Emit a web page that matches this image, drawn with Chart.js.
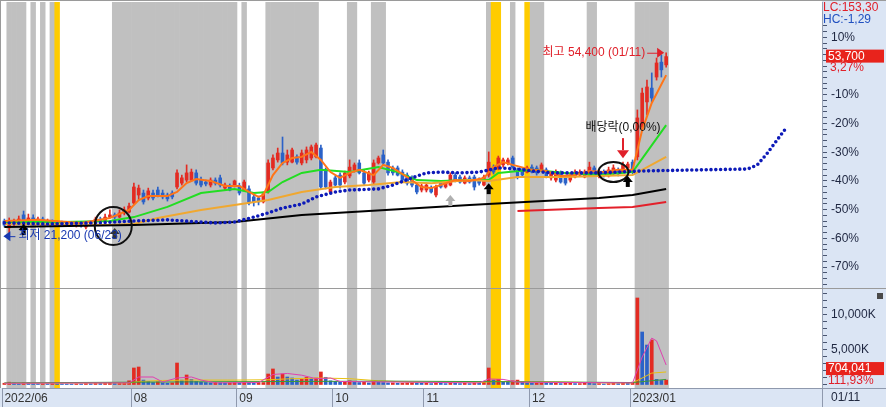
<!DOCTYPE html>
<html>
<head>
<meta charset="utf-8">
<script src="https://cdn.jsdelivr.net/npm/chart.js@4.4.0/dist/chart.umd.min.js"></script>
<style>
  html, body { margin: 0; padding: 0; background: #fff; }
  #wrap { width: 886px; height: 407px; }
</style>
</head>
<body>
<div id="wrap"><canvas id="chart" width="886" height="407"></canvas></div>
<script>
/* globals Chart: false */

// 139 trading days (2022/06/23 .. 2023/01/11) + 32 empty slots for the forward line
var slotCount = 171;
var monthStarts = [0, 27, 49, 69, 88, 110, 131];
var monthNames = ['2022/06', '08', '09', '10', '11', '12', '2023/01'];
var basePrice = 52000;

// [open, high, low, close]
var candles = [
    [23950, 24300, 22850, 23200], [22700, 24500, 21200, 23750], [23400, 24300, 23050, 23950], [23600, 24850, 23400, 24300],
    [25050, 25750, 23600, 23750], [23750, 25200, 23600, 24500], [24500, 25050, 23600, 23750], [23600, 24650, 23400, 24300],
    [24300, 24650, 23400, 23600], [23600, 24300, 23200, 23950], [23950, 24150, 23200, 23400], [23400, 23950, 23050, 23750],
    [23750, 23950, 23200, 23400], [23400, 23750, 23050, 23600], [23600, 23750, 23050, 23200], [23200, 23750, 22850, 23600],
    [23600, 23750, 22850, 23050], [22850, 23600, 22500, 23400], [23400, 23950, 23200, 23750], [23750, 24650, 23600, 24300],
    [24300, 24650, 23750, 23950], [23950, 25200, 23750, 24650], [24650, 25950, 24500, 25050], [25050, 25400, 24300, 24650],
    [24650, 25950, 24500, 25400], [25400, 26500, 25050, 25950], [25550, 27200, 25400, 26650], [27200, 30800, 27000, 30100],
    [28650, 30450, 27750, 29900], [29000, 29550, 27000, 27400], [28100, 29900, 27750, 29400], [29000, 29550, 27750, 28100],
    [29550, 30100, 28300, 28650], [29000, 29550, 27950, 28300], [28650, 29000, 27550, 27950], [29000, 29400, 27950, 28300],
    [30100, 33200, 29750, 32650], [30800, 32250, 30450, 31750], [31350, 34100, 31000, 32650], [31350, 33350, 31200, 32800],
    [32650, 33200, 30450, 30800], [31350, 31900, 30100, 30450], [31000, 31350, 30300, 30650], [30450, 31750, 30100, 31350],
    [31350, 31750, 30450, 30800], [31750, 32250, 30100, 30450], [29900, 30800, 29550, 30450], [30300, 30650, 29400, 29550],
    [30450, 31350, 30100, 31200], [30300, 30800, 28650, 29000], [29550, 31350, 29400, 31000], [29750, 30300, 26850, 27200],
    [28300, 28650, 26650, 27400], [28100, 28450, 26850, 27400], [27400, 29200, 27200, 28850], [29200, 35000, 29000, 34450],
    [33550, 35900, 33200, 35350], [35000, 37150, 34600, 36250], [36250, 39150, 34100, 34450], [34600, 36800, 34100, 35900],
    [34600, 37150, 34450, 36800], [35550, 35900, 34250, 34600], [34450, 36800, 34100, 36250], [35000, 37350, 34450, 36800],
    [35350, 37700, 35000, 37350], [35550, 38050, 35350, 37700], [37150, 37700, 29750, 30100], [33200, 33550, 29750, 30100],
    [29200, 31350, 29000, 31000], [31750, 32100, 30100, 30450], [32250, 32650, 29900, 30450], [31000, 33000, 30650, 32650],
    [32100, 35000, 31750, 33700], [33200, 34450, 32800, 34100], [34450, 35000, 32450, 32650], [32650, 33200, 30450, 30800],
    [31350, 33000, 31000, 32650], [31000, 35000, 30650, 34450], [34450, 35700, 34250, 35350], [35900, 36800, 34100, 34450],
    [34600, 35000, 32250, 32650], [33550, 33900, 32250, 32650], [33550, 33900, 32100, 32250], [32800, 33200, 31200, 31350],
    [32250, 32650, 30450, 30800], [31750, 32100, 30100, 30450], [30450, 30800, 28850, 29200], [29550, 30650, 29200, 30300],
    [29550, 30800, 29200, 30450], [29900, 30300, 29000, 29200], [28650, 30450, 28300, 30100], [30800, 31200, 29900, 30100],
    [30100, 31200, 29900, 30800], [30450, 32650, 30300, 32250], [32250, 32650, 31000, 31350], [31900, 32250, 30800, 31000],
    [30800, 32100, 30650, 31750], [31750, 32100, 30800, 31000], [31900, 32250, 29550, 30100], [31350, 31750, 30450, 30800],
    [30450, 32250, 30300, 31900], [32250, 36450, 31900, 34600], [33700, 34100, 32450, 32800], [33550, 35700, 33200, 35350],
    [34100, 35350, 33700, 35000], [34450, 35350, 34100, 35000], [35350, 35700, 33550, 33700], [33200, 33550, 31550, 31900],
    [33200, 33550, 31900, 32250], [32800, 33900, 32650, 33550], [33700, 34100, 32650, 32800], [33550, 33900, 32250, 32650],
    [33200, 34450, 33000, 34100], [33200, 33550, 31750, 31900], [31750, 32800, 31350, 32650], [31350, 33200, 31000, 32800],
    [32650, 33000, 30800, 31000], [31900, 32250, 30450, 30800], [31350, 32450, 31000, 32250], [31900, 33200, 31750, 32800],
    [32250, 33200, 32100, 32800], [31900, 33200, 31750, 32800], [32250, 34600, 32100, 33700], [33550, 33900, 32100, 32250],
    [32100, 33200, 31750, 32800], [32800, 33200, 31900, 32250], [32100, 33700, 31900, 33200], [32650, 34100, 32250, 33550],
    [33200, 33550, 32100, 32450], [32800, 34600, 32650, 34100], [33550, 34600, 33200, 34250], [34600, 35000, 32450, 32800],
    [35550, 44050, 35000, 42600], [40950, 48000, 40400, 47100], [45500, 49450, 43150, 48200], [48000, 50750, 45500, 46200],
    [50000, 53450, 49450, 52550], [52700, 54000, 50000, 51300], [52200, 54400, 51800, 53700]
];

// volume, thousands of shares
var volumesK = [
    250, 400, 300, 200, 350, 300, 250, 200, 220, 180, 200, 190, 170, 160, 150, 170, 160, 220, 200, 250,
    230, 300, 350, 260, 280, 320, 600, 2430, 2570, 700, 500, 350, 450, 300, 250, 300, 3140, 700, 1430, 800,
    500, 400, 350, 300, 350, 300, 280, 300, 350, 300, 400, 350, 300, 350, 350, 1570, 2290, 1140, 1570, 1140,
    1000, 700, 800, 1100, 900, 1000, 1860, 1100, 600, 500, 400, 450, 600, 400, 350, 400, 300, 500, 400, 350,
    300, 300, 250, 250, 300, 350, 300, 250, 250, 200, 300, 250, 200, 350, 250, 200, 250, 200, 300, 250,
    400, 2430, 700, 800, 500, 450, 600, 700, 400, 300, 250, 300, 350, 300, 250, 250, 200, 250, 250, 200,
    200, 300, 250, 200, 200, 150, 200, 250, 200, 300, 250, 400, 12430, 7570, 5710, 6430, 800, 650, 704.041
];

// moving averages, [day index, price]
var ma5 = [[0, 23950], [7, 24150], [16, 23600], [22, 24500], [26, 25950], [28, 27750], [30, 28450], [34, 28450],
    [36, 29200], [38, 30800], [40, 31550], [43, 31200], [46, 30300], [49, 30300], [51, 29200], [53, 28300],
    [54, 28650], [56, 32250], [58, 34450], [60, 35350], [62, 35550], [64, 36450], [66, 35000], [68, 32800],
    [70, 31750], [72, 32650], [74, 33200], [77, 32250], [79, 34100], [81, 33550], [84, 31900], [87, 30100],
    [89, 29900], [91, 30450], [94, 31350], [97, 31200], [100, 31750], [102, 33700], [104, 34600], [106, 34100],
    [110, 33200], [113, 33000], [116, 32100], [119, 32250], [122, 33000], [125, 32800], [128, 33200], [131, 33200],
    [132, 36800], [133, 40400], [135, 45300], [138, 50350]];
var ma20 = [[0, 23750], [12, 23750], [22, 23950], [27, 24650], [34, 26500], [41, 29000], [48, 29750], [52, 29000],
    [55, 29200], [58, 31000], [62, 32650], [66, 33200], [72, 32800], [78, 33700], [82, 32800], [86, 31350],
    [91, 31200], [97, 31350], [101, 31350], [103, 32650], [110, 33200], [117, 32650], [124, 32250], [131, 32800],
    [138, 41300]];
var ma60 = [[0, 23400], [22, 23200], [27, 23400], [32, 24500], [41, 25950], [48, 26850], [55, 27750], [62, 29200],
    [69, 30100], [76, 30450], [83, 31000], [89, 30800], [97, 31350], [101, 31200], [107, 31900], [117, 31900],
    [131, 32250], [138, 35550]];
var ma120 = [[0, 22850], [27, 23200], [48, 23750], [62, 25050], [97, 26850], [124, 28100], [131, 28650], [138, 29750]];
var ma240 = [[107, 25750], [124, 26300], [131, 26500], [138, 27400]];
var forwardLine = [[0, 23600], [9, 23400], [19, 23600], [23, 23750], [27, 23950], [34, 24150], [41, 23750], [44, 23600],
    [48, 23750], [52, 24650], [55, 25400], [58, 26300], [62, 27000], [65, 28300], [69, 29200], [72, 29550],
    [78, 29750], [81, 30450], [85, 31750], [88, 32650], [91, 32800], [95, 32650], [99, 32800], [103, 33550],
    [107, 33350], [110, 33000], [114, 32650], [124, 32650], [133, 33000], [145, 33200], [155, 33350], [157, 34100],
    [159, 36100], [161, 38450], [163, 40750]];

// volume averages, [day index, thousands]
var vma5 = [[0, 250], [26, 300], [28, 1140], [31, 1140], [33, 430], [36, 1000], [39, 1140], [41, 710], [44, 300],
    [53, 350], [56, 1500], [59, 1650], [62, 1400], [65, 900], [68, 1000], [70, 500], [99, 300], [101, 860],
    [104, 800], [107, 400], [131, 300], [133, 4000], [135, 6700], [136, 6300], [138, 2860]];
var vma20 = [[0, 250], [26, 300], [28, 500], [33, 650], [40, 700], [48, 700], [55, 750], [60, 900], [66, 1000],
    [72, 900], [78, 600], [85, 400], [100, 400], [102, 500], [115, 450], [125, 300], [131, 300], [133, 1000],
    [135, 1700], [138, 1860]];
var vma60 = [[0, 300], [40, 450], [80, 550], [110, 450], [131, 350], [138, 800]];

// shaded day ranges
var grayBands = [[1, 4], [6, 6], [8, 8], [10, 10], [23, 48], [50, 50], [55, 65], [72, 73], [77, 79],
    [101, 101], [106, 106], [110, 112], [122, 123], [132, 138]];
var yellowBands = [[11, 11], [102, 103], [109, 109]];

// signal arrows [day index, price at tip, colour]
var signals = [[4, 23400, '#000'], [23, 22700, '#333'], [93, 28650, '#b0b0b0'], [101, 30800, '#000'], [130, 32100, '#000']];

var pctTicks = [];
for (var p = -76; p <= 14; p += 2) pctTicks.push(p);
var volTicks = [0, 1000, 2000, 3000, 4000, 5000, 6000, 7000, 8000, 9000, 10000, 11000, 12000, 13000];

var UP = '#e32b22', DOWN = '#2b62c8';
var FONT = '"Liberation Sans", "Noto Sans CJK KR", sans-serif';
var panelBlue = '#dbe5f4';

var labels = [];
for (var i = 0; i < slotCount; i++) labels.push(i);

function bandData(ranges) {
    var d = [];
    for (var i = 0; i < slotCount; i++) d.push(null);
    ranges.forEach(function (r) {
        for (var j = r[0]; j <= r[1]; j++) d[j] = 1;
    });
    return d;
}

function pts(list) {
    return list.map(function (p) { return {x: p[0], y: p[1]}; });
}

function line(list, color, width, axis, order) {
    return {
        type: 'line', data: pts(list), borderColor: color, borderWidth: width,
        pointRadius: 0, tension: 0, yAxisID: axis, order: order
    };
}

var candleColors = candles.map(function (c) { return c[3] >= c[0] ? UP : DOWN; });
var volColors = volumesK.map(function (v, i) { return (i === 0 || v >= volumesK[i - 1]) ? UP : DOWN; });

function arrowUp(c, x, y, color) {
    c.fillStyle = color;
    c.beginPath();
    c.moveTo(x, y);
    c.lineTo(x - 5, y + 6);
    c.lineTo(x + 5, y + 6);
    c.closePath();
    c.fill();
    c.fillRect(x - 2, y + 6, 4, 5);
}

var decor = {
    id: 'decor',
    beforeDraw: function (chart) {
        var c = chart.ctx, a = chart.chartArea;
        c.save();
        c.fillStyle = '#fff';
        c.fillRect(0, 0, chart.width, chart.height);
        c.fillStyle = panelBlue;
        c.fillRect(a.right, 0, chart.width - a.right, chart.height);
        c.fillRect(0, a.bottom, chart.width, chart.height - a.bottom);
        c.restore();
    },
    afterDatasetsDraw: function (chart) {
        var c = chart.ctx, xs = chart.scales.x, ys = chart.scales.y;
        var px = function (i) { return xs.getPixelForValue(i); };
        var py = function (v) { return ys.getPixelForValue(v); };
        c.save();
        c.font = '12px ' + FONT;
        c.textBaseline = 'middle';

        // circles
        c.strokeStyle = '#111';
        c.lineWidth = 2;
        c.beginPath();
        c.ellipse(px(22.7), py(23050), 18.5, 19, 0, 0, Math.PI * 2);
        c.stroke();
        c.beginPath();
        c.ellipse(px(127), py(32800), 15, 10, 0, 0, Math.PI * 2);
        c.stroke();

        signals.forEach(function (s) { arrowUp(c, px(s[0]), py(s[1]), s[2]); });

        // high
        var hx = px(138) - 2, hy = py(54400);
        c.strokeStyle = '#e0202a';
        c.fillStyle = '#e0202a';
        c.lineWidth = 1;
        c.beginPath();
        c.moveTo(hx - 17, hy + 0.5);
        c.lineTo(hx - 4, hy + 0.5);
        c.stroke();
        c.beginPath();
        c.moveTo(hx, hy);
        c.lineTo(hx - 7, hy - 5);
        c.lineTo(hx - 7, hy + 5);
        c.closePath();
        c.fill();
        c.textAlign = 'right';
        c.fillText('최고 54,400 (01/11)', hx - 19, hy);

        // low
        var lx = px(0) - 1, ly = py(21200);
        c.fillStyle = '#1838b0';
        c.strokeStyle = '#1838b0';
        c.beginPath();
        c.moveTo(lx, ly);
        c.lineTo(lx + 7, ly - 5);
        c.lineTo(lx + 7, ly + 5);
        c.closePath();
        c.fill();
        c.beginPath();
        c.moveTo(lx + 6, ly + 0.5);
        c.lineTo(lx + 12, ly + 0.5);
        c.stroke();
        c.textAlign = 'left';
        c.fillText('최저 21,200 (06/23)', lx + 15, ly);

        // ex-dividend
        var dx = Math.round(px(129)), dy = py(34600) - 4;
        c.fillStyle = '#e0202a';
        c.fillRect(dx - 1, dy - 20, 2, 12);
        c.beginPath();
        c.moveTo(dx, dy);
        c.lineTo(dx - 6, dy - 8);
        c.lineTo(dx + 6, dy - 8);
        c.closePath();
        c.fill();
        c.fillStyle = '#111';
        c.textAlign = 'center';
        c.fillText('배당락(0,00%)', dx, dy - 30);

        // panel divider
        var yv = chart.scales.yv;
        c.fillStyle = '#9a9a9a';
        c.fillRect(0, Math.round(yv.top) - 1, chart.width, 1);
        c.restore();
    },
    afterDraw: function (chart) {
        var c = chart.ctx, a = chart.chartArea;
        var ys = chart.scales.y, yv = chart.scales.yv;
        var last = candles[candles.length - 1];
        var lastVol = volumesK[volumesK.length - 1];
        c.save();
        c.font = '12px ' + FONT;
        c.textBaseline = 'middle';
        c.textAlign = 'left';

        c.fillStyle = '#9a9a9a';
        c.fillRect(0, 0, chart.width, 1);
        c.fillRect(0, 0, 1, a.bottom);
        c.fillStyle = '#8f99ad';
        c.fillRect(a.right, a.bottom, chart.width - a.right, 1);
        c.fillRect(Math.round(a.right), a.bottom, 1, chart.height - a.bottom);

        c.fillStyle = '#e0202a';
        c.fillText('LC:153,30', a.right + 1, 8);
        c.fillStyle = '#2050c0';
        c.fillText('HC:-1,29', a.right + 1, 20);

        var ty = ys.getPixelForValue(last[3]);
        c.fillStyle = '#e8231c';
        c.fillRect(a.right + 4, ty - 7, 58, 13);
        c.fillStyle = '#fff';
        c.fillText(last[3].toLocaleString('en-US'), a.right + 6, ty);
        c.fillStyle = '#e0202a';
        c.fillText('3,27%', a.right + 8, ty + 11);

        var vy = yv.getPixelForValue(lastVol);
        c.fillStyle = '#e8231c';
        c.fillRect(a.right + 4, vy - 18, 58, 13);
        c.fillStyle = '#fff';
        c.fillText(Math.round(lastVol * 1000).toLocaleString('en-US'), a.right + 6, vy - 11);
        c.fillStyle = '#e0202a';
        c.fillText('111,93%', a.right + 6, vy + 1);

        c.fillStyle = '#222a40';
        c.fillText('01/11', a.right + 9, a.bottom + 10);

        c.fillStyle = '#4a4a4a';
        c.fillRect(chart.width - 9, yv.top + 4, 6, 6);
        c.restore();
    }
};

var yTickFont = {family: FONT, size: 12};

var ctx = document.getElementById('chart').getContext('2d');
var myChart = new Chart(ctx, {
    type: 'bar',
    data: {
        labels: labels,
        datasets: [
            {label: 'gray', data: bandData(grayBands), backgroundColor: '#c0c0c0', yAxisID: 'bg',
                barPercentage: 1, categoryPercentage: 1, grouped: false, order: 100},
            {label: 'yellow', data: bandData(yellowBands), backgroundColor: '#ffcc00', yAxisID: 'bg',
                barPercentage: 1, categoryPercentage: 1, grouped: false, order: 99},
            {label: 'wick', data: candles.map(function (c) { return [c[2], c[1]]; }), backgroundColor: candleColors,
                yAxisID: 'y', barThickness: 1, grouped: false, order: 6},
            {label: 'body', data: candles.map(function (c) { return [c[0], c[3]]; }), backgroundColor: candleColors,
                yAxisID: 'y', barThickness: 3, minBarLength: 1, grouped: false, order: 5},
            {label: 'volume', data: volumesK, backgroundColor: volColors, yAxisID: 'yv',
                barThickness: 3, grouped: false, order: 5},
            line(ma120, '#000000', 2, 'y', 3),
            line(ma240, '#e3202a', 2, 'y', 3),
            line(ma60, '#f0a830', 2, 'y', 3),
            line(ma20, '#22dd22', 2, 'y', 3),
            line(ma5, '#ff7518', 2, 'y', 2),
            {type: 'line', data: pts(forwardLine), borderColor: '#0d1ab8', borderWidth: 3.6,
                borderDash: [0, 4.8], borderCapStyle: 'round', pointRadius: 0, tension: 0, yAxisID: 'y', order: 1},
            line(vma60, '#3a9a3a', 1, 'yv', 3),
            line(vma20, '#e8c010', 1, 'yv', 3),
            line(vma5, '#e040b0', 1, 'yv', 2)
        ]
    },
    options: {
        responsive: false,
        animation: false,
        devicePixelRatio: 1,
        layout: {padding: {top: 2, left: 2, right: 0, bottom: 0}},
        plugins: {legend: {display: false}, tooltip: {enabled: false}},
        scales: {
            x: {
                type: 'category',
                offset: true,
                grid: {
                    offset: true, drawOnChartArea: false, tickLength: 19,
                    color: function (c) { return monthStarts.indexOf(c.index) >= 0 ? '#8f99ad' : 'rgba(0,0,0,0)'; }
                },
                border: {display: true, color: '#8f99ad'},
                ticks: {
                    autoSkip: false, maxRotation: 0, align: 'start', padding: -16, color: '#333',
                    font: yTickFont,
                    callback: function (v) {
                        var k = monthStarts.indexOf(v);
                        return k >= 0 ? monthNames[k] : '';
                    }
                },
                afterFit: function (s) { s.height = 19; s.paddingLeft = 0; s.paddingRight = 0; }
            },
            y: {
                position: 'right', stack: 'panes', stackWeight: 287, min: 11637, max: 63584,
                grid: {drawOnChartArea: false, tickLength: 5, color: '#4a5570'},
                border: {color: '#98a2b4'},
                ticks: {
                    autoSkip: false, padding: 4, color: '#1e2640', font: yTickFont,
                    callback: function (v) {
                        var p = Math.round((v / basePrice - 1) * 100);
                        return (p % 10 === 0 && p !== 0 && p <= 10) ? p + '%' : '';
                    }
                },
                afterBuildTicks: function (s) {
                    s.ticks = pctTicks.map(function (p) { return {value: basePrice * (1 + p / 100)}; });
                },
                afterFit: function (s) { s.width = 64; s.paddingTop = 0; s.paddingBottom = 0; }
            },
            yv: {
                position: 'right', stack: 'panes', stackWeight: 99, min: -430, max: 13714,
                grid: {drawOnChartArea: false, tickLength: 5, color: '#4a5570'},
                border: {color: '#98a2b4'},
                ticks: {
                    autoSkip: false, padding: 4, color: '#1e2640', font: yTickFont,
                    callback: function (v) {
                        return (v === 5000 || v === 10000) ? v.toLocaleString('en-US') + 'K' : '';
                    }
                },
                afterBuildTicks: function (s) {
                    s.ticks = volTicks.map(function (v) { return {value: v}; });
                },
                afterFit: function (s) { s.width = 64; s.paddingTop = 0; s.paddingBottom = 0; }
            },
            bg: {display: false, min: 0, max: 1}
        }
    },
    plugins: [decor]
});
</script>
</body>
</html>
